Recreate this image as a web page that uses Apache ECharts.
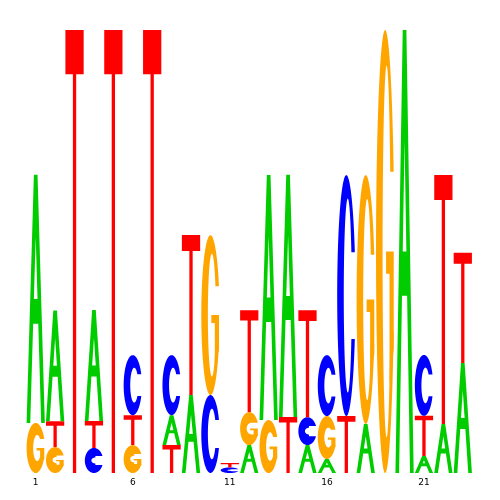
<!DOCTYPE html>
<html>
<head>
<meta charset="utf-8">
<script src="https://cdn.jsdelivr.net/npm/echarts@6/dist/echarts.min.js"></script>
<style>html,body{margin:0;padding:0;background:#fff;}#chart{width:500px;height:500px;}</style>
</head>
<body>
<div id="chart"></div>
<script>
// Sequence positions and visible tick labels
const positions = ['1','2','3','4','5','6','7','8','9','10','11','12','13','14','15','16','17','18','19','20','21','22','23'];
const tickLabels = ['1','6','11','16','21'];
// Letters per position, stacked bottom to top
const stackLetters = [
  ['G','A'], ['G','T','A'], ['T'], ['C','T','A'], ['T'], ['G','T','C'], ['T'], ['T','A','C'],
  ['A','T'], ['C','G'], ['C','T'], ['A','G','T'], ['G','A'], ['T','A'], ['A','C','T'], ['A','G','C'],
  ['T','C'], ['A','G'], ['G'], ['A'], ['A','T','C'], ['A','T'], ['A','T']
];
// Letter heights in bits, matching stackLetters
const stackHeights = [
  [0.226,1.120], [0.117,0.117,0.500], [2.0], [0.113,0.122,0.501], [2.0], [0.126,0.135,0.271], [2.0], [0.126,0.135,0.271],
  [0.352,0.722], [0.352,0.722], [0.025,0.020], [0.126,0.149,0.460], [0.239,1.106], [0.253,1.093], [0.126,0.126,0.483], [0.063,0.194,0.275],
  [0.257,1.088], [0.221,1.124], [2.0], [2.0], [0.077,0.181,0.275], [0.221,1.124], [0.497,0.497]
];
const letterOrder = ['A','C','G','T'];
const letterColors = {A:'#00CC00', C:'#0000FF', G:'#FFA500', T:'#FF0000'};

const data = [];
stackLetters.forEach((col, i) => {
  let y = 0;
  col.forEach((L, j) => {
    const h = stackHeights[i][j];
    data.push({value: [i, y, y + h, letterOrder.indexOf(L)]});
    y += h;
  });
});

// ring glyph (C / G) in unit box, y up; hPx = glyph height in pixels
function ringPoints(hPx, yLo, yHi) {
  const N = 90;
  const cx = 0.58, rx = 0.22;
  const t = 9 + 0.06 * hPx;
  const ry = Math.min(0.44, Math.max(0.12, 0.5 - t / hPx));
  const a0 = Math.asin((yHi - 0.5) / 0.5);
  const a1 = 2 * Math.PI - a0;
  const outer = [];
  for (let k = 0; k <= N; k++) {
    const a = a0 + (a1 - a0) * k / N;
    outer.push([0.5 + 0.5 * Math.cos(a), 0.5 + 0.5 * Math.sin(a)]);
  }
  const dyHi = yHi - 0.5, dyLo = 0.5 - yLo;
  const inner = [];
  let b0, b1;
  if (dyHi < ry) { b0 = Math.asin(dyHi / ry); } else { b0 = Math.PI / 2; inner.push([cx, yHi]); }
  if (dyLo < ry) { b1 = 2 * Math.PI - Math.asin(dyLo / ry); } else { b1 = 1.5 * Math.PI; }
  for (let k = 0; k <= N; k++) {
    const a = b0 + (b1 - b0) * k / N;
    inner.push([cx + rx * Math.cos(a), 0.5 + ry * Math.sin(a)]);
  }
  if (dyLo >= ry) inner.push([cx, yLo]);
  // close cuts horizontally
  const first = inner[0], last = inner[inner.length - 1];
  return outer.concat([[last[0], yLo]], inner.slice().reverse(), [[first[0], yHi]]);
}

function glyph(L, hPx) {
  if (L === 'A') {
    const cb = Math.max(0.1, Math.min(0.2, 3 / hPx));
    const y0 = 0.4, y1 = y0 + cb;
    return [
      {pts: [[0,0],[0.4,1],[0.6,1],[1,0],[0.8,0],[0.2 + 0.8 - 0.2 - 0.4 * y0 + 0.0, y0],[0.2 + 0.4 * y0, y0],[0.2,0]].map((p, i) => i === 5 ? [0.8 - 0.4 * y0, y0] : p), hole: false},
      {pts: [[0.2 + 0.4 * y1, y1],[0.5,0.75],[0.8 - 0.4 * y1, y1]], hole: true}
    ];
  }
  if (L === 'T') {
    const bar = Math.max(0.1, Math.min(4.5 / hPx, 0.25));
    const yb = 1 - bar;
    return [{pts: [[0,1],[1,1],[1,yb],[0.59,yb],[0.59,0],[0.41,0],[0.41,yb],[0,yb]], hole: false}];
  }
  if (L === 'C') return [{pts: ringPoints(hPx, 0.32, 0.68), hole: false}];
  // G
  return [
    {pts: ringPoints(hPx, 0.32, 0.68), hole: false},
    {pts: [[0.97,0.5],[0.55,0.5],[0.55,0.45],[0.74,0.45],[0.74,0.2],[0.97,0.28]], hole: false}
  ];
}

function renderItem(params, api) {
  const xi = api.value(0), y0 = api.value(1), y1 = api.value(2);
  const L = letterOrder[api.value(3)];
  const pb = api.coord([xi, y0]);
  const pt = api.coord([xi, y1]);
  const bw = api.size([1, 0])[0] * 0.94;
  const left = pb[0] - bw / 2, bottom = pb[1], h = pb[1] - pt[1];
  const children = glyph(L, h).map(s => ({
    type: 'polygon',
    shape: {points: s.pts.map(p => [left + p[0] * bw, bottom - p[1] * h])},
    style: {fill: s.hole ? '#FFFFFF' : letterColors[L], stroke: null}
  }));
  return {type: 'group', children};
}

const chart = echarts.init(document.getElementById('chart'), null, {renderer: 'canvas'});
chart.setOption({
  animation: false,
  backgroundColor: '#FFFFFF',
  grid: {left: 26, right: 27.5, top: 30, bottom: 27},
  xAxis: {
    type: 'category',
    data: positions,
    boundaryGap: true,
    axisLine: {show: false},
    axisTick: {show: false},
    splitLine: {show: false},
    axisLabel: {
      interval: (idx, val) => tickLabels.includes(val),
      margin: 5,
      fontSize: 9,
      color: '#000',
      fontFamily: 'DejaVu Sans'
    }
  },
  yAxis: {type: 'value', min: 0, max: 2, show: false},
  series: [{
    type: 'custom',
    renderItem,
    data,
    encode: {x: 0, y: [1, 2]},
    clip: false
  }]
});
</script>
</body>
</html>
